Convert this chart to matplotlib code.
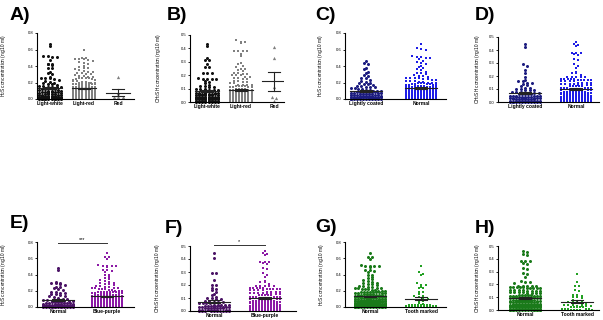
import numpy as np
import matplotlib.pyplot as plt

plt.rcParams['font.family'] = 'Liberation Sans'
plt.rcParams['mathtext.default'] = 'regular'

# ---- values (ng/10 ml) ----
a_light_white = [
    0.67, 0.64, 0.52, 0.52, 0.51, 0.51, 0.47, 0.43, 0.43, 0.42, 0.41, 0.37, 0.37,
    0.33, 0.32, 0.30, 0.27, 0.25, 0.25, 0.25, 0.24, 0.23, 0.22, 0.21, 0.20,
    0.19, 0.18, 0.18, 0.17, 0.16, 0.16, 0.15, 0.15, 0.14, 0.14, 0.13, 0.13,
    0.12, 0.12, 0.12, 0.11, 0.11, 0.10, 0.10, 0.10, 0.09, 0.09, 0.09,
    0.08, 0.08, 0.08, 0.07, 0.07, 0.07, 0.06, 0.06, 0.06, 0.06,
    0.05, 0.05, 0.05, 0.05, 0.04, 0.04, 0.04, 0.04, 0.04,
    0.03, 0.03, 0.03, 0.03, 0.03, 0.02, 0.02, 0.02, 0.02, 0.02, 0.02, 0.02, 0.02, 0.02, 0.02,
    0.01, 0.01, 0.01, 0.01, 0.01, 0.01, 0.01, 0.01, 0.01, 0.01, 0.01,
    0.00, 0.00, 0.00, 0.00, 0.00, 0.00, 0.00, 0.00, 0.00, 0.00, 0.00]
a_light_red = [
    0.60, 0.50, 0.50, 0.49, 0.49, 0.48, 0.47, 0.46, 0.45, 0.44, 0.43,
    0.40, 0.39, 0.38, 0.37, 0.36, 0.35, 0.34, 0.33, 0.33, 0.32, 0.31, 0.30, 0.30, 0.29,
    0.28, 0.28, 0.27, 0.27, 0.26, 0.26, 0.25, 0.25, 0.24, 0.24, 0.23, 0.23,
    0.22, 0.22, 0.21, 0.21, 0.20, 0.20,
    0.19, 0.19, 0.19, 0.19, 0.18, 0.18, 0.18, 0.18, 0.17, 0.17, 0.17, 0.17,
    0.16, 0.16, 0.16, 0.16, 0.15, 0.15, 0.15, 0.15, 0.14, 0.14, 0.14, 0.14,
    0.13, 0.13, 0.13, 0.13, 0.12, 0.12, 0.12, 0.12, 0.11, 0.11, 0.11, 0.11,
    0.10, 0.10, 0.10, 0.10, 0.10, 0.10, 0.10, 0.10, 0.10,
    0.09, 0.09, 0.09, 0.09, 0.09, 0.09, 0.09, 0.09, 0.09,
    0.08, 0.08, 0.08, 0.08, 0.08, 0.08, 0.08, 0.08, 0.08,
    0.07, 0.07, 0.07, 0.07, 0.07, 0.07, 0.07, 0.07, 0.07,
    0.06, 0.06, 0.06, 0.06, 0.06, 0.06, 0.06, 0.06, 0.06,
    0.05, 0.05, 0.05, 0.05, 0.05, 0.05, 0.05, 0.05, 0.05, 0.05, 0.05, 0.05,
    0.04, 0.04, 0.04, 0.04, 0.04, 0.04, 0.04, 0.04, 0.04, 0.04, 0.04, 0.04,
    0.03, 0.03, 0.03, 0.03, 0.03, 0.03, 0.03, 0.03, 0.03, 0.03, 0.03, 0.03,
    0.02, 0.02, 0.02, 0.02, 0.02, 0.02, 0.02, 0.02, 0.02, 0.02, 0.02, 0.02,
    0.01, 0.01, 0.01, 0.01, 0.01, 0.01, 0.01, 0.01, 0.01, 0.01, 0.01, 0.01,
    0.00, 0.00, 0.00, 0.00, 0.00, 0.00, 0.00, 0.00, 0.00, 0.00, 0.00, 0.00]
a_red = [0.27, 0.07, 0.05, 0.03, 0.02, 0.02]

b_light_white = [
    0.43, 0.42, 0.33, 0.31, 0.31, 0.28, 0.26, 0.26, 0.22, 0.22, 0.22,
    0.18, 0.17, 0.17, 0.17, 0.17, 0.16, 0.15, 0.14, 0.13, 0.12, 0.12, 0.11, 0.11,
    0.10, 0.10, 0.10, 0.09, 0.09, 0.09, 0.08, 0.08, 0.08, 0.08,
    0.07, 0.07, 0.07, 0.07, 0.07, 0.06, 0.06, 0.06, 0.06, 0.06, 0.06,
    0.05, 0.05, 0.05, 0.05, 0.05, 0.05, 0.05, 0.04, 0.04, 0.04, 0.04, 0.04, 0.04, 0.04, 0.04,
    0.03, 0.03, 0.03, 0.03, 0.03, 0.03, 0.03, 0.03, 0.03,
    0.02, 0.02, 0.02, 0.02, 0.02, 0.02, 0.02, 0.02, 0.02, 0.02,
    0.01, 0.01, 0.01, 0.01, 0.01, 0.01, 0.01, 0.01, 0.01, 0.01,
    0.00, 0.00, 0.00, 0.00, 0.00, 0.00, 0.00, 0.00]
b_light_red = [
    0.46, 0.45, 0.45, 0.44, 0.38, 0.38, 0.38, 0.38, 0.36, 0.34,
    0.29, 0.28, 0.27, 0.26, 0.25, 0.25, 0.24, 0.23, 0.22, 0.22, 0.21, 0.21, 0.20, 0.20, 0.20,
    0.19, 0.19, 0.18, 0.18, 0.17, 0.17, 0.16, 0.16, 0.15, 0.15, 0.14, 0.14,
    0.13, 0.13, 0.13, 0.13, 0.12, 0.12, 0.12, 0.12, 0.11, 0.11, 0.11, 0.11, 0.10, 0.10, 0.10, 0.10,
    0.09, 0.09, 0.09, 0.09, 0.09, 0.09, 0.09,
    0.08, 0.08, 0.08, 0.08, 0.08, 0.08, 0.08, 0.08,
    0.07, 0.07, 0.07, 0.07, 0.07, 0.07, 0.07, 0.07, 0.07,
    0.06, 0.06, 0.06, 0.06, 0.06, 0.06, 0.06, 0.06, 0.06, 0.06,
    0.05, 0.05, 0.05, 0.05, 0.05, 0.05, 0.05, 0.05, 0.05, 0.05, 0.05, 0.05, 0.05, 0.05, 0.05, 0.05,
    0.04, 0.04, 0.04, 0.04, 0.04, 0.04, 0.04, 0.04, 0.04, 0.04, 0.04, 0.04, 0.04, 0.04, 0.04, 0.04,
    0.03, 0.03, 0.03, 0.03, 0.03, 0.03, 0.03, 0.03, 0.03, 0.03, 0.03, 0.03, 0.03, 0.03, 0.03, 0.03,
    0.02, 0.02, 0.02, 0.02, 0.02, 0.02, 0.02, 0.02, 0.02, 0.02, 0.02, 0.02, 0.02, 0.02, 0.02, 0.02,
    0.01, 0.01, 0.01, 0.01, 0.01, 0.01, 0.01, 0.01, 0.01, 0.01, 0.01, 0.01, 0.01, 0.01, 0.01, 0.01,
    0.00, 0.00, 0.00, 0.00, 0.00, 0.00, 0.00, 0.00, 0.00, 0.00, 0.00, 0.00, 0.00, 0.00, 0.00, 0.00,
    0.00, 0.00, 0.00, 0.00]
b_red = [0.41, 0.33, 0.11, 0.04, 0.03, 0.01]

c_lightly_coated = [
    0.46, 0.44, 0.43, 0.38, 0.36, 0.33, 0.31, 0.29, 0.28, 0.26, 0.25, 0.23, 0.22, 0.21, 0.20,
    0.19, 0.18, 0.18, 0.17, 0.16, 0.16, 0.15, 0.14, 0.14, 0.13, 0.13, 0.12, 0.12, 0.11, 0.11,
    0.10, 0.10, 0.10, 0.09, 0.09, 0.09, 0.08, 0.08, 0.08, 0.08, 0.07, 0.07, 0.07, 0.07,
    0.06, 0.06, 0.06, 0.06, 0.06, 0.05, 0.05, 0.05, 0.05, 0.05,
    0.04, 0.04, 0.04, 0.04, 0.04, 0.04, 0.03, 0.03, 0.03, 0.03, 0.03, 0.03,
    0.02, 0.02, 0.02, 0.02, 0.02, 0.02, 0.02, 0.01, 0.01, 0.01, 0.01, 0.01, 0.01, 0.01,
    0.00, 0.00, 0.00, 0.00, 0.00, 0.00, 0.00, 0.00, 0.00, 0.00, 0.00, 0.00]
c_normal = [
    0.67, 0.62, 0.61, 0.59, 0.52, 0.51, 0.51, 0.50, 0.50, 0.49, 0.46, 0.45, 0.44, 0.43,
    0.40, 0.39, 0.37, 0.36, 0.35, 0.33, 0.32, 0.31, 0.30, 0.29,
    0.28, 0.28, 0.27, 0.26, 0.26, 0.25, 0.25, 0.24, 0.24, 0.23, 0.23,
    0.22, 0.22, 0.22, 0.21, 0.21, 0.20, 0.20, 0.20,
    0.19, 0.19, 0.19, 0.18, 0.18, 0.18, 0.18, 0.17, 0.17, 0.17, 0.17, 0.16, 0.16, 0.16, 0.16,
    0.15, 0.15, 0.15, 0.15, 0.15, 0.14, 0.14, 0.14, 0.14, 0.14, 0.13, 0.13, 0.13, 0.13, 0.13,
    0.12, 0.12, 0.12, 0.12, 0.12, 0.12, 0.11, 0.11, 0.11, 0.11, 0.11, 0.11,
    0.10, 0.10, 0.10, 0.10, 0.10, 0.10, 0.10, 0.09, 0.09, 0.09, 0.09, 0.09, 0.09, 0.09,
    0.08, 0.08, 0.08, 0.08, 0.08, 0.08, 0.08, 0.08, 0.07, 0.07, 0.07, 0.07, 0.07, 0.07, 0.07, 0.07,
    0.06, 0.06, 0.06, 0.06, 0.06, 0.06, 0.06, 0.06, 0.06,
    0.05, 0.05, 0.05, 0.05, 0.05, 0.05, 0.05, 0.05, 0.05, 0.05,
    0.04, 0.04, 0.04, 0.04, 0.04, 0.04, 0.04, 0.04, 0.04, 0.04, 0.04, 0.04,
    0.03, 0.03, 0.03, 0.03, 0.03, 0.03, 0.03, 0.03, 0.03, 0.03, 0.03, 0.03,
    0.02, 0.02, 0.02, 0.02, 0.02, 0.02, 0.02, 0.02, 0.02, 0.02, 0.02, 0.02, 0.02, 0.02,
    0.01, 0.01, 0.01, 0.01, 0.01, 0.01, 0.01, 0.01, 0.01, 0.01, 0.01, 0.01, 0.01, 0.01,
    0.00, 0.00, 0.00, 0.00, 0.00, 0.00, 0.00, 0.00, 0.00, 0.00, 0.00, 0.00, 0.00, 0.00]

d_lightly_coated = [
    0.45, 0.42, 0.29, 0.28, 0.25, 0.22, 0.19, 0.17, 0.16, 0.16, 0.15, 0.15, 0.14, 0.13,
    0.12, 0.11, 0.11, 0.10, 0.10, 0.09, 0.09, 0.09, 0.08, 0.08, 0.08,
    0.07, 0.07, 0.07, 0.07, 0.06, 0.06, 0.06, 0.06, 0.06, 0.05, 0.05, 0.05, 0.05, 0.05, 0.05,
    0.04, 0.04, 0.04, 0.04, 0.04, 0.04, 0.03, 0.03, 0.03, 0.03, 0.03, 0.03, 0.03,
    0.02, 0.02, 0.02, 0.02, 0.02, 0.02, 0.02, 0.02,
    0.01, 0.01, 0.01, 0.01, 0.01, 0.01, 0.01, 0.01, 0.01, 0.01,
    0.00, 0.00, 0.00, 0.00, 0.00, 0.00, 0.00, 0.00, 0.00, 0.00, 0.00, 0.00]
d_normal = [
    0.46, 0.45, 0.44, 0.43, 0.38, 0.38, 0.38, 0.37, 0.36, 0.33, 0.32, 0.29, 0.28, 0.26,
    0.23, 0.22, 0.22, 0.21,
    0.19, 0.19, 0.19, 0.19, 0.19, 0.18, 0.18, 0.18, 0.18, 0.18, 0.17, 0.17, 0.17, 0.17, 0.17,
    0.16, 0.16, 0.16, 0.16, 0.15, 0.15, 0.15, 0.15, 0.14, 0.14, 0.14, 0.14, 0.13, 0.13, 0.13, 0.13,
    0.12, 0.12, 0.12, 0.12, 0.12, 0.11, 0.11, 0.11, 0.11, 0.11, 0.11,
    0.10, 0.10, 0.10, 0.10, 0.10, 0.10, 0.10, 0.10, 0.09, 0.09, 0.09, 0.09, 0.09, 0.09, 0.09, 0.09,
    0.08, 0.08, 0.08, 0.08, 0.08, 0.08, 0.08, 0.08, 0.07, 0.07, 0.07, 0.07, 0.07, 0.07, 0.07, 0.07, 0.07,
    0.06, 0.06, 0.06, 0.06, 0.06, 0.06, 0.06, 0.06, 0.06, 0.06,
    0.05, 0.05, 0.05, 0.05, 0.05, 0.05, 0.05, 0.05, 0.05, 0.05,
    0.04, 0.04, 0.04, 0.04, 0.04, 0.04, 0.04, 0.04, 0.04, 0.04, 0.04,
    0.03, 0.03, 0.03, 0.03, 0.03, 0.03, 0.03, 0.03, 0.03, 0.03, 0.03,
    0.02, 0.02, 0.02, 0.02, 0.02, 0.02, 0.02, 0.02, 0.02, 0.02, 0.02, 0.02, 0.02, 0.02,
    0.01, 0.01, 0.01, 0.01, 0.01, 0.01, 0.01, 0.01, 0.01, 0.01, 0.01, 0.01, 0.01, 0.01,
    0.00, 0.00, 0.00, 0.00, 0.00, 0.00, 0.00, 0.00, 0.00, 0.00, 0.00, 0.00, 0.00, 0.00, 0.00, 0.00]

e_normal = [
    0.48, 0.45, 0.31, 0.30, 0.29, 0.29, 0.28, 0.27, 0.25, 0.25, 0.23, 0.22, 0.21,
    0.19, 0.18, 0.17, 0.17, 0.16, 0.16, 0.15, 0.14, 0.13, 0.12, 0.11, 0.10, 0.10, 0.09, 0.09,
    0.08, 0.08, 0.08, 0.07, 0.07, 0.07, 0.06, 0.06, 0.06, 0.06,
    0.05, 0.05, 0.05, 0.05, 0.05, 0.04, 0.04, 0.04, 0.04, 0.04,
    0.03, 0.03, 0.03, 0.03, 0.03, 0.03, 0.02, 0.02, 0.02, 0.02, 0.02, 0.02, 0.02,
    0.01, 0.01, 0.01, 0.01, 0.01, 0.01, 0.01, 0.01, 0.01, 0.01,
    0.00, 0.00, 0.00, 0.00, 0.00, 0.00, 0.00, 0.00, 0.00, 0.00, 0.00, 0.00, 0.00, 0.00]
e_blue_purple = list(c_normal)

f_normal = [
    0.45, 0.41, 0.29, 0.29, 0.24, 0.20, 0.20, 0.18, 0.17, 0.16, 0.15, 0.13, 0.12, 0.11,
    0.10, 0.10, 0.09, 0.09, 0.08, 0.08, 0.07, 0.07, 0.07, 0.06, 0.06, 0.06, 0.06,
    0.05, 0.05, 0.05, 0.05, 0.05, 0.04, 0.04, 0.04, 0.04, 0.04, 0.04,
    0.03, 0.03, 0.03, 0.03, 0.03, 0.03, 0.02, 0.02, 0.02, 0.02, 0.02, 0.02, 0.02,
    0.01, 0.01, 0.01, 0.01, 0.01, 0.01, 0.01, 0.01,
    0.00, 0.00, 0.00, 0.00, 0.00, 0.00, 0.00, 0.00, 0.00, 0.00]
f_blue_purple = list(d_normal)

g_normal = list(c_normal)
g_tooth_marked = [
    0.50, 0.43, 0.41, 0.39, 0.29, 0.27, 0.27, 0.25, 0.23, 0.23,
    0.19, 0.18, 0.16, 0.14, 0.13, 0.12, 0.11, 0.10, 0.08, 0.07, 0.05, 0.04,
    0.03, 0.03, 0.02, 0.02, 0.02, 0.02, 0.02, 0.02,
    0.01, 0.01, 0.01, 0.01, 0.01, 0.01, 0.01, 0.01,
    0.00, 0.00, 0.00, 0.00, 0.00, 0.00, 0.00, 0.00, 0.00, 0.00]

h_normal = list(d_normal)
h_tooth_marked = [
    0.28, 0.22, 0.19, 0.19, 0.16, 0.15, 0.12, 0.12, 0.11, 0.10, 0.10, 0.09, 0.08,
    0.07, 0.07, 0.06, 0.06, 0.06, 0.05, 0.05, 0.04, 0.04, 0.04,
    0.03, 0.03, 0.03, 0.03, 0.02, 0.02, 0.02, 0.02, 0.02,
    0.01, 0.01, 0.01, 0.01, 0.01, 0.00, 0.00, 0.00, 0.00, 0.00]

H2S = 'H$_2$S concentration (ng/10 ml)'
CH3SH = 'CH$_3$SH concentration (ng/10 ml)'

W, H = 603, 320
BLACK, GREY = '#111111', '#808080'
NAVY, BLUE = '#1c1c80', '#1e1ee6'
DPURP, PURP = '#4b1466', '#8c1aa6'
DGREEN, GREEN = '#1a7a1a', '#22a022'
MSIZE = {'o': 4.8, 's': 3.6, '^': 5.5}

# letter, (left, top, right, bottom) in px, ymax, ystep, ylabel, xlim, groups, ylabel x, letter pos, sig
panels = [
    ('A)', (37, 33, 134, 99), 0.8, 0.2, H2S, (-0.38, 2.47),
     [('Light-white', a_light_white, BLACK, 'o'), ('Light-red', a_light_red, GREY, 's'),
      ('Red', a_red, GREY, '^')], -0.30, (10, 7), None),
    ('B)', (190, 35, 284, 102), 0.5, 0.1, CH3SH, (-0.51, 2.30),
     [('Light-white', b_light_white, BLACK, 'o'), ('Light-red', b_light_red, GREY, 's'),
      ('Red', b_red, GREY, '^')], -0.29, (167, 7), None),
    ('C)', (345, 33, 446, 99), 0.8, 0.2, H2S, (-0.38, 1.45),
     [('Lightly coated', c_lightly_coated, NAVY, 'o'), ('Normal', c_normal, BLUE, 's')],
     -0.20, (315, 7), None),
    ('D)', (498, 37, 599, 102), 0.5, 0.1, CH3SH, (-0.53, 1.45),
     [('Lightly coated', d_lightly_coated, NAVY, 'o'), ('Normal', d_normal, BLUE, 's')],
     -0.16, (475, 7), None),
    ('E)', (37, 242, 134, 307), 0.8, 0.2, H2S, (-0.43, 1.55),
     [('Normal', e_normal, DPURP, 'o'), ('Blue-purple', e_blue_purple, PURP, 's')],
     -0.30, (10, 215), (0.79, '***')),
    ('F)', (190, 246, 296, 311), 0.5, 0.1, CH3SH, (-0.47, 1.61),
     [('Normal', f_normal, DPURP, 'o'), ('Blue-purple', f_blue_purple, PURP, 's')],
     -0.26, (165, 220), (0.51, '*')),
    ('G)', (345, 242, 446, 307), 0.8, 0.2, H2S, (-0.49, 1.49),
     [('Normal', g_normal, DGREEN, 'o'), ('Tooth marked', g_tooth_marked, GREEN, 's')],
     -0.19, (315, 219), None),
    ('H)', (498, 246, 599, 310), 0.5, 0.1, CH3SH, (-0.52, 1.42),
     [('Normal', h_normal, DGREEN, 'o'), ('Tooth marked', h_tooth_marked, GREEN, 's')],
     -0.16, (475, 220), None),
]


def swarm_offsets(vals, ymax, h_px, maxw_px, row_px=2.7, loose_px=4.5):
    # points within one row are spread sideways; crowded rows fill a fixed column grid
    vals = np.asarray(vals, float)
    rows = np.floor(vals / ymax * h_px / row_px).astype(int)
    ncol = int(maxw_px // 2.8) + 1
    grid = (np.arange(ncol) - (ncol - 1) / 2) * maxw_px / (ncol - 1)
    order = np.argsort(np.abs(grid) + 0.01 * np.arange(ncol))
    off = np.zeros(len(vals))
    for r in np.unique(rows):
        idx = np.where(rows == r)[0]
        n = len(idx)
        if n >= ncol:
            for j, p in enumerate(idx):
                off[p] = grid[order[j % ncol]]
        else:
            step = min(loose_px, maxw_px / max(n - 1, 1))
            off[idx] = (np.arange(n) - (n - 1) / 2) * step
    return off


fig = plt.figure(figsize=(W / 100, H / 100), dpi=100)

for letter, (l, t, r, b), ymax, ystep, ylab, xlim, groups, ylx, lpos, sig in panels:
    ax = fig.add_axes([l / W, 1 - b / H, (r - l) / W, (b - t) / H])
    w_px, h_px = r - l, b - t
    px2x = (xlim[1] - xlim[0]) / w_px
    maxw = 22 if len(groups) == 3 else 30
    for i, (name, vals, col, mk) in enumerate(groups):
        vals = np.asarray(vals, float)
        xo = swarm_offsets(vals, ymax, h_px, maxw) * px2x
        ax.scatter(i + xo, vals, s=MSIZE[mk], c=col, marker=mk, linewidths=0, zorder=2, clip_on=False)
        m = vals.mean()
        sem = vals.std(ddof=1) / np.sqrt(len(vals))
        hw, cw = (maxw / 2 + 1) * px2x, 6 * px2x
        ax.plot([i - hw, i + hw], [m, m], color='#222222', lw=0.8, zorder=3)
        ax.plot([i, i], [m - sem, m + sem], color='#222222', lw=0.8, zorder=3)
        for yy in (m - sem, m + sem):
            ax.plot([i - cw, i + cw], [yy, yy], color='#222222', lw=0.8, zorder=3)
    ax.set_xlim(*xlim)
    ax.set_ylim(0, ymax)
    ax.set_yticks(np.round(np.arange(0, ymax + 1e-9, ystep), 1))
    ax.yaxis.set_major_formatter(plt.FormatStrFormatter('%.1f'))
    ax.set_xticks(range(len(groups)))
    ax.set_xticklabels([g[0] for g in groups], fontsize=3.6, fontweight='bold')
    ax.tick_params(axis='x', length=0, pad=1.5)
    ax.tick_params(axis='y', labelsize=3.0, length=1.5, width=0.6, pad=0.8)
    for s in ('top', 'right'):
        ax.spines[s].set_visible(False)
    for s in ('left', 'bottom'):
        ax.spines[s].set_linewidth(0.8)
    ax.set_ylabel(ylab, fontsize=3.4)
    ax.yaxis.set_label_coords(ylx, 0.5)
    if sig is not None:
        ys, stars = sig
        ax.plot([0, 1], [ys, ys], color='#333333', lw=0.7, clip_on=False)
        ax.text(0.5, ys + ymax * 0.01, stars, ha='center', va='bottom', fontsize=4)
    fig.text(lpos[0] / W, 1 - lpos[1] / H, letter, fontsize=14, fontweight='bold', va='top')

fig.savefig('out.png', dpi=100)
